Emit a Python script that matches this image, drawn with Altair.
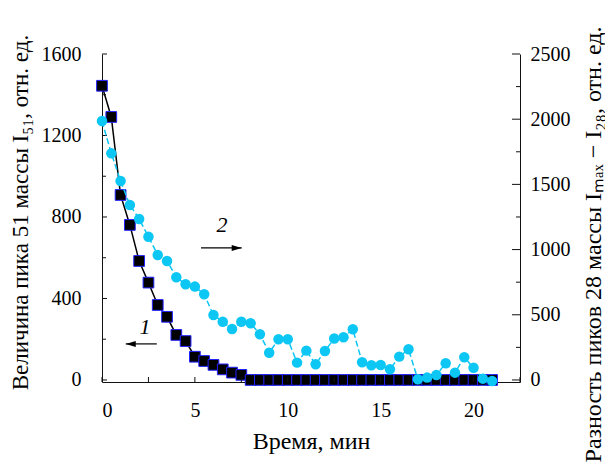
import altair as alt
import pandas as pd

# ---- data ----
time_min = [0.0, 0.5, 1.0, 1.5, 2.0, 2.5, 3.0, 3.5, 4.0, 4.5, 5.0, 5.5, 6.0, 6.5,
            7.0, 7.5, 8.0, 8.5, 9.0, 9.5, 10.0, 10.5, 11.0, 11.5, 12.0, 12.5, 13.0,
            13.5, 14.0, 14.5, 15.0, 15.5, 16.0, 16.5, 17.0, 17.5, 18.0, 18.5, 19.0,
            19.5, 20.0, 20.5, 21.0]
peak_51 = [1444, 1291, 908, 761, 584, 478, 368, 310, 221, 191, 114, 93, 74, 52,
           36, 25, 0, 0, 0, 0, 0, 0, 0, 0, 0, 0, 0,
           0, 0, 0, 0, 0, 0, 0, 0, 0, 0, 0, 0,
           0, 0, 0, 0]
diff_28 = [1986, 1738, 1526, 1342, 1235, 1099, 959, 913, 788, 734, 716, 657, 498, 447,
           391, 447, 435, 350, 209, 312, 312, 133, 225, 120, 222, 318, 327,
           389, 136, 113, 115, 82, 179, 235, 5, 18, 38, 128, 56,
           174, 94, 10, -8]

x_major = [0, 5, 10, 15, 20]
x_ticks = [0, 2.5, 5, 7.5, 10, 12.5, 15, 17.5, 20, 22.5]
yl_major = [0, 400, 800, 1200, 1600]
yl_minor = [200, 600, 1000, 1400]
yr_major = [0, 500, 1000, 1500, 2000, 2500]
yr_minor = [250, 750, 1250, 1750, 2250]

label_text = ["1", "2"]
label_t = [2.32, 6.46]
label_v = [262, 761]
arrow_from = [2.95, 5.33]
arrow_to = [1.28, 7.52]
arrow_v = [177, 648]
arrow_dir = ["left", "right"]

df = pd.DataFrame({"t": time_min, "p51": peak_51, "d28": diff_28})
labels = pd.DataFrame({"t": label_t, "v": label_v, "txt": label_text})
arrows = pd.DataFrame({"t1": arrow_from, "t2": arrow_to, "v": arrow_v, "dir": arrow_dir})

W, H = 418, 328
FONT = "Liberation Serif, Times New Roman, Times, serif"
CYAN = "#0cc6f4"

xs = alt.Scale(domain=[0, 22.5], nice=False, zero=False)
yls = alt.Scale(domain=[-10, 1600], nice=False, zero=False)
yrs = alt.Scale(domain=[-15.625, 2500], nice=False, zero=False)

common_axis = dict(grid=False, ticks=False, tickSize=0, domainColor="#111", domainWidth=1,
                   labelFont=FONT, titleFont=FONT, labelFontSize=20,
                   labelColor="black", titleColor="black", titleFontWeight="normal",
                   format="d")

x_axis = alt.Axis(values=x_major, title="Время, мин", labelPadding=18, titleFontSize=24,
                  titleX=W / 2, titleY=66, titleBaseline="alphabetic", **common_axis)
yl_axis = alt.Axis(values=yl_major, title="Величина пика 51 массы I₅₁, отн. ед.",
                   labelPadding=21, titleAngle=270, titleX=-75, titleY=158, titleFontSize=23,
                   titleBaseline="alphabetic", titleAlign="center", **common_axis)
yr_axis = alt.Axis(values=yr_major, orient="right",
                   title="Разность пиков 28 массы Iₘₐₓ − I₂₈, отн. ед.",
                   labelPadding=10, titleAngle=270, titleX=80, titleY=190, titleFontSize=24,
                   titleBaseline="alphabetic", titleAlign="center", **common_axis)


def X(field):
    return alt.X(field, scale=xs, axis=x_axis)


def YL(field):
    return alt.Y(field, scale=yls, axis=yl_axis)


def YR(field):
    return alt.Y(field, scale=yrs, axis=yr_axis)


base = alt.Chart(df)

line1 = base.mark_line(color="black", strokeWidth=1.5).encode(x=X("t:Q"), y=YL("p51:Q"))
sq = base.mark_point(shape="square", filled=True, fill="black", stroke="#2222ff",
                     strokeWidth=1, size=115, opacity=1).encode(x=X("t:Q"), y=YL("p51:Q"))

tl_major = alt.Chart(pd.DataFrame({"v": yl_major})).mark_rule(color="#111").encode(
    y=YL("v:Q"), x=alt.value(0), x2=alt.value(5))
tl_minor = alt.Chart(pd.DataFrame({"v": yl_minor})).mark_rule(color="#111").encode(
    y=YL("v:Q"), x=alt.value(0), x2=alt.value(4))
tx = alt.Chart(pd.DataFrame({"v": x_ticks})).mark_rule(color="#111").encode(
    x=X("v:Q"), y=alt.value(H), y2=alt.value(H - 5))

txt = alt.Chart(labels).mark_text(font=FONT, fontStyle="italic", fontSize=22,
                                  color="black", baseline="middle", align="center").encode(
    x=X("t:Q"), y=YL("v:Q"), text="txt:N")
arr = alt.Chart(arrows).mark_rule(color="black", strokeWidth=1.2).encode(
    x=X("t1:Q"), x2="t2:Q", y=YL("v:Q"))
head_r = alt.Chart(arrows).transform_filter("datum.dir == 'right'").mark_point(
    shape="M0,0L-2,-0.6L-2,0.6Z", filled=True, color="black", size=100, opacity=1).encode(
    x=X("t2:Q"), y=YL("v:Q"))
head_l = alt.Chart(arrows).transform_filter("datum.dir == 'left'").mark_point(
    shape="M0,0L2,-0.6L2,0.6Z", filled=True, color="black", size=100, opacity=1).encode(
    x=X("t2:Q"), y=YL("v:Q"))

left = alt.layer(line1, sq, tl_major, tl_minor, tx, txt, arr, head_r, head_l)

line2 = base.mark_line(color=CYAN, strokeWidth=1.5, strokeDash=[6, 3]).encode(
    x=X("t:Q"), y=YR("d28:Q"))
circ = base.mark_circle(color=CYAN, size=110, opacity=1).encode(x=X("t:Q"), y=YR("d28:Q"))
tr_major = alt.Chart(pd.DataFrame({"v": yr_major})).mark_rule(color="#111").encode(
    y=YR("v:Q"), x=alt.value(W), x2=alt.value(W - 8))
tr_minor = alt.Chart(pd.DataFrame({"v": yr_minor})).mark_rule(color="#111").encode(
    y=YR("v:Q"), x=alt.value(W), x2=alt.value(W - 4))

right = alt.layer(line2, circ, tr_major, tr_minor)

chart = alt.layer(left, right).resolve_scale(y="independent").properties(
    width=W, height=H,
    padding={"left": 94, "top": 46, "right": 85, "bottom": 82},
    autosize=alt.AutoSizeParams(type="none"),
    background="white",
).configure(font=FONT).configure_axis(
    labelFont=FONT, titleFont=FONT
).configure_view(stroke=None)

chart.save("out.html", embed_options={"renderer": "svg", "actions": False})
